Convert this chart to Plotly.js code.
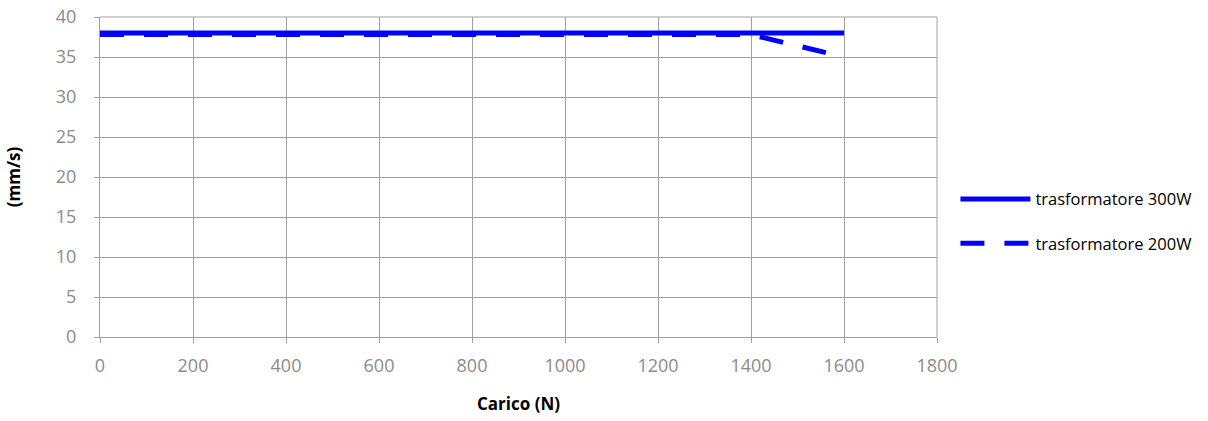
<!DOCTYPE html>
<html><head><meta charset="utf-8">
<script src="https://cdn.plot.ly/plotly-3.0.1.min.js"></script>
<style>body{margin:0;background:#fff}#chart{width:1208px;height:421px}</style>
</head><body><div id="chart"></div>
<script>
const loadN = [0, 200, 400, 600, 800, 1000, 1200, 1400, 1600];
const speed300W = [38, 38, 38, 38, 38, 38, 38, 38, 38];
const speed200W = [37.8, 37.8, 37.8, 37.8, 37.8, 37.8, 37.8, 37.8, 35];
const seriesNames = ['trasformatore 300W', 'trasformatore 200W'];

const traces = [
  {x: loadN, y: speed300W, name: seriesNames[0], mode: 'lines', legendgroup: 'a',
   line: {color: '#0000ff', width: 5}},
  {x: loadN, y: speed200W, name: seriesNames[1], mode: 'lines', legendgroup: 'b',
   line: {color: '#0000ff', width: 5, dash: '24px,20px'}}
];
const axisCommon = {
  showgrid: true, gridcolor: '#a0a0a0', gridwidth: 1,
  showline: true, linecolor: '#a0a0a0', linewidth: 1,
  ticks: 'outside', ticklen: 5, tickcolor: '#a0a0a0',
  tickfont: {family: 'Open Sans, sans-serif', size: 18, color: '#8c8c8c'},
  zeroline: false
};
const titleFont = {family: 'Open Sans, sans-serif', size: 17, color: '#000', weight: 'bold'};
const layout = {
  width: 1208, height: 421,
  margin: {l: 100, r: 271, t: 17, b: 84},
  paper_bgcolor: '#fff', plot_bgcolor: '#fff',
  showlegend: true,
  legend: {x: 1.022, y: 0.362, xanchor: 'left', yanchor: 'middle', itemwidth: 70,
    font: {family: 'Open Sans, sans-serif', size: 16.5, color: '#000'},
    tracegroupgap: 20, traceorder: 'grouped'},
  xaxis: Object.assign({}, axisCommon, {range: [0, 1800], dtick: 200, ticklabelstandoff: 7,
    title: {text: 'Carico (N)', font: titleFont, standoff: 22}}),
  yaxis: Object.assign({}, axisCommon, {range: [0, 40], dtick: 5, ticklabelstandoff: 14,
    title: {text: '(mm/s)', font: titleFont, standoff: 30}}),
  shapes: [
    {type: 'line', xref: 'paper', yref: 'paper', x0: 1, x1: 1, y0: 0, y1: 1, line: {color: '#a0a0a0', width: 1}},
    {type: 'line', xref: 'paper', yref: 'paper', x0: 0, x1: 1, y0: 1, y1: 1, line: {color: '#a0a0a0', width: 1}}
  ]
};
Plotly.newPlot('chart', traces, layout, {displayModeBar: false, staticPlot: true});
</script></body></html>
